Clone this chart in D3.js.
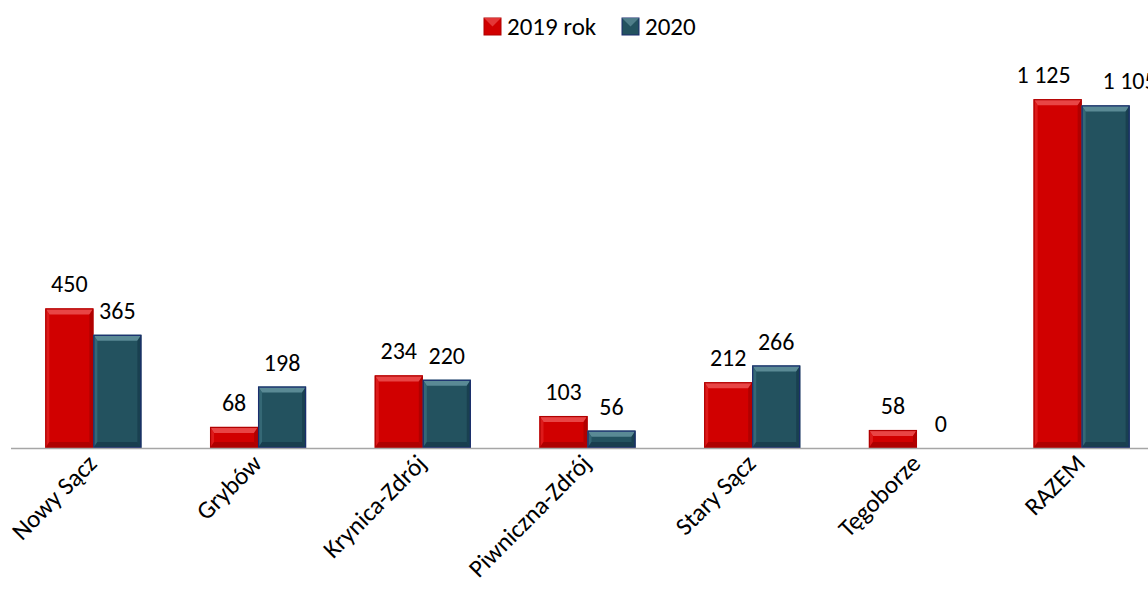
<!DOCTYPE html>
<html><head><meta charset="utf-8">
<script src="https://cdn.jsdelivr.net/npm/d3@7/dist/d3.min.js"></script>
<style>body{margin:0;background:#fff;}svg{display:block;font-family:Carlito,Lato,"Open Sans",sans-serif;}</style>
</head><body>
<svg id="c" width="1148" height="601"></svg>
<script>
const categories = ["Nowy Sącz","Grybów","Krynica-Zdrój","Piwniczna-Zdrój","Stary Sącz","Tęgoborze","RAZEM"];
const seriesNames = ["2019 rok","2020"];
const values2019 = [450,68,234,103,212,58,1125];
const values2020 = [365,198,220,56,266,0,1105];
const labels2019 = ["450","68","234","103","212","58","1 125"];
const labels2020 = ["365","198","220","56","266","0","1 105"];

const svg = d3.select("#c");
const x = d3.scaleBand().domain(categories).range([11,1164]);
const xs = d3.scaleBand().domain(seriesNames).range([0,96]);
const y = d3.scaleLinear().domain([0,1445]).range([448,0]);
const FS_VAL = 24, FS_CAT = 25, FS_LEG = 25;

const styles = [
  {fill:"#d10000", top:"#e84545", side:"#e02020", dark:"#a50000", stroke:"#b00000"},
  {fill:"#23525f", top:"#5a8a95", side:"#3a6e7a", dark:"#16394a", stroke:"#1a2d6e"}
];

function bar(g, x0, w, v, st){
  const yt = y(v), yb = y(0), h = yb - yt;
  if (h <= 0) return;
  const b = Math.min(6, h/2), s = Math.min(4, w/4);
  g.append("rect").attr("x",x0).attr("y",yt).attr("width",w).attr("height",h).attr("fill",st.fill);
  g.append("polygon").attr("points",`${x0},${yt} ${x0+w},${yt} ${x0+w-s},${yt+b} ${x0+s},${yt+b}`).attr("fill",st.top);
  g.append("polygon").attr("points",`${x0},${yt} ${x0+s},${yt+b} ${x0+s},${yb-b} ${x0},${yb}`).attr("fill",st.side).attr("opacity",0.8);
  g.append("polygon").attr("points",`${x0+w},${yt} ${x0+w-s},${yt+b} ${x0+w-s},${yb-b} ${x0+w},${yb}`).attr("fill",st.dark).attr("opacity",0.7);
  g.append("polygon").attr("points",`${x0},${yb} ${x0+s},${yb-b} ${x0+w-s},${yb-b} ${x0+w},${yb}`).attr("fill",st.dark).attr("opacity",0.8);
  g.append("rect").attr("x",x0+0.5).attr("y",yt+0.5).attr("width",w-1).attr("height",h-1)
    .attr("fill","none").attr("stroke",st.stroke).attr("stroke-width",1.2);
}

const series = [values2019, values2020];
const labs = [labels2019, labels2020];
const gBars = svg.append("g");
categories.forEach((c,i)=>{
  const cx = x(c) + x.bandwidth()/2 - 48;
  const last = i === categories.length - 1;
  seriesNames.forEach((sn,j)=>{
    const x0 = cx + xs(sn);
    bar(gBars, x0, xs.bandwidth(), series[j][i], styles[j]);
    const dx = last ? (j === 0 ? -14 : 24) : 0;
    svg.append("text").attr("x", x0 + xs.bandwidth()/2 + dx).attr("y", y(series[j][i]) - 16)
      .attr("text-anchor","middle").attr("font-size",FS_VAL).attr("fill","#000").text(labs[j][i]);
  });
});

svg.append("line").attr("x1",11).attr("x2",1148).attr("y1",448.5).attr("y2",448.5)
  .attr("stroke","#a6a6a6").attr("stroke-width",1.5);

categories.forEach(c=>{
  const cx = x(c) + x.bandwidth()/2 + 5;
  svg.append("text").attr("transform",`translate(${cx},${465}) rotate(-45)`)
    .attr("text-anchor","end").attr("font-size",FS_CAT).attr("fill","#000").text(c);
});

const lg = svg.append("g");
const legX = [484, 622];
seriesNames.forEach((sn,j)=>{
  const st = styles[j];
  const lx = legX[j], ly = 18, sz = 17;
  lg.append("rect").attr("x",lx).attr("y",ly).attr("width",sz).attr("height",sz).attr("fill",st.fill).attr("stroke",st.stroke);
  lg.append("polygon").attr("points",`${lx},${ly} ${lx+sz},${ly} ${lx+sz/2},${ly+sz/2}`).attr("fill",st.top).attr("opacity",0.8);
  lg.append("text").attr("x",lx+sz+6).attr("y",ly+sz).attr("font-size",FS_LEG).attr("fill","#000").text(sn);
});
</script>
</body></html>
